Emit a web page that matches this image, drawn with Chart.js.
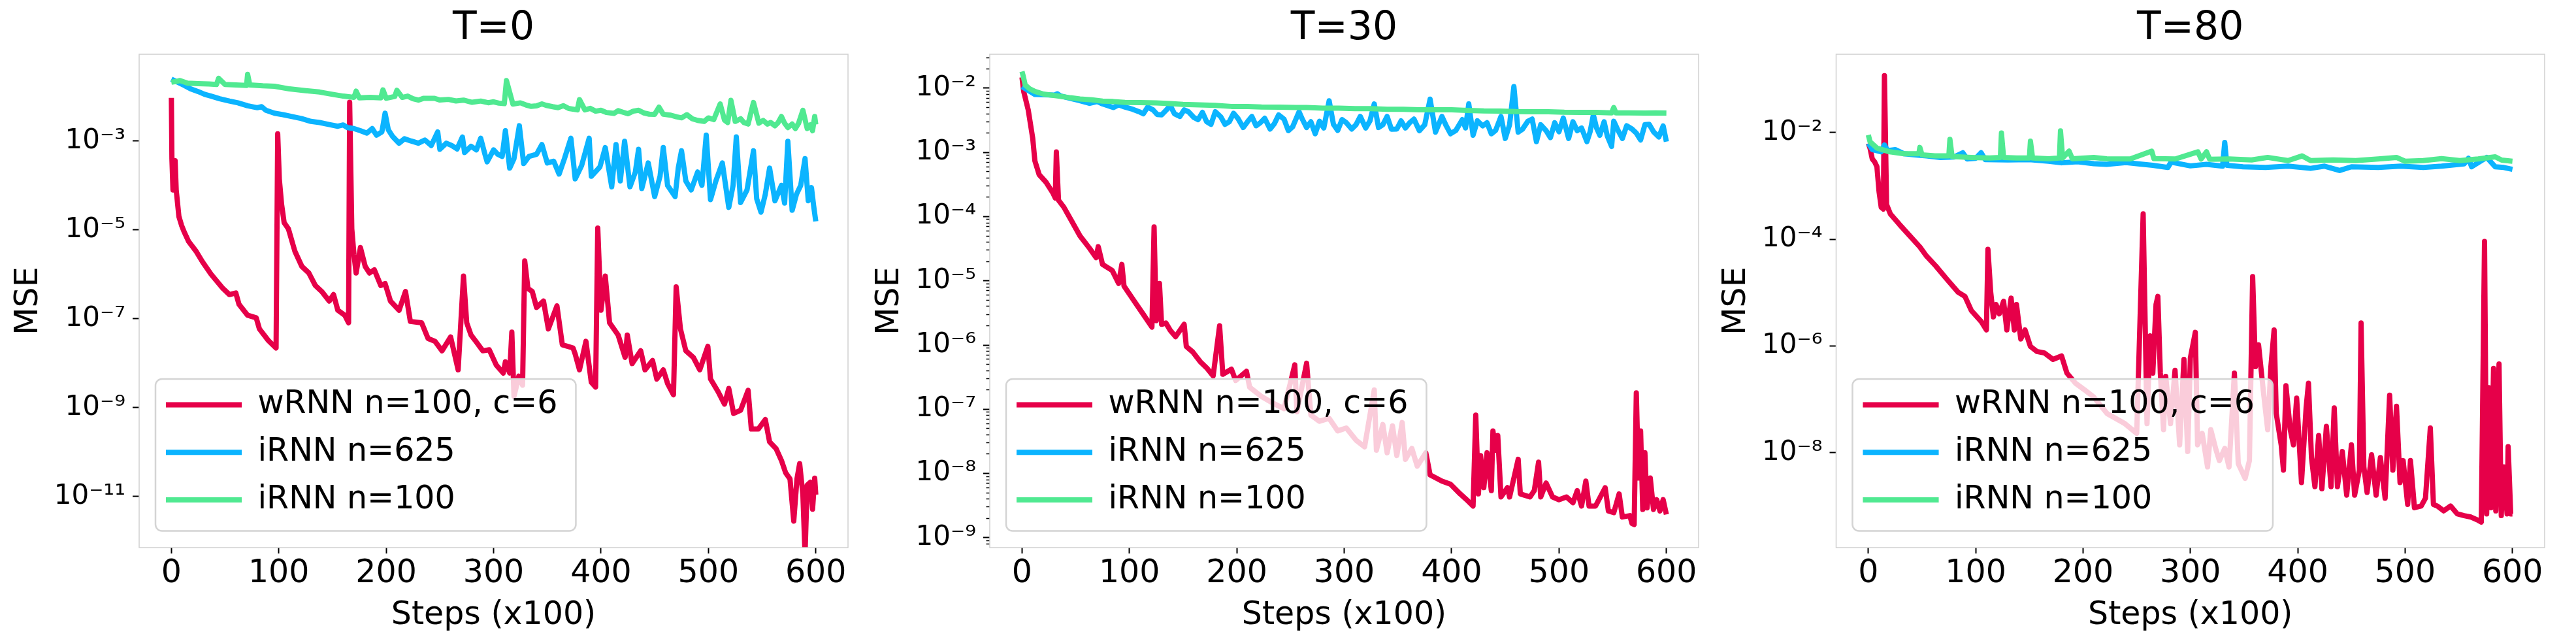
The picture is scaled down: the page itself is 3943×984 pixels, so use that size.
<!DOCTYPE html>
<html>
<head>
<meta charset="utf-8">
<title>MSE vs steps</title>
<script src="https://cdn.jsdelivr.net/npm/chart.js@4/dist/chart.umd.min.js"></script>
<style>
html, body { margin: 0; padding: 0; background: #ffffff; }
body { width: 3943px; height: 984px; position: relative; overflow: hidden; }
canvas { position: absolute; top: 0; }
</style>
</head>
<body>
<canvas id="panelT0" width="1310" height="984" style="left:0px;width:1310px;height:984px"></canvas>
<canvas id="panelT30" width="1300" height="984" style="left:1310px;width:1300px;height:984px"></canvas>
<canvas id="panelT80" width="1333" height="984" style="left:2610px;width:1333px;height:984px"></canvas>
<script>
Chart.defaults.font.family = "'DejaVu Sans', sans-serif";
Chart.defaults.color = '#000';

const seriesNames = ['wRNN n=100, c=6', 'iRNN n=625', 'iRNN n=100'];
const seriesColors = ['#e60049', '#0bb4ff', '#50e991'];
const panelTitles = ['T=0', 'T=30', 'T=80'];
const xTickValues = [0, 100, 200, 300, 400, 500, 600];

// y tick marks / labels per panel
const t0TickValues = [1e-3, 1e-5, 1e-7, 1e-9, 1e-11];
const t0TickLabels = ['10⁻³', '10⁻⁵', '10⁻⁷', '10⁻⁹', '10⁻¹¹'];
const t30TickValues = [1e-2, 1e-3, 1e-4, 1e-5, 1e-6, 1e-7, 1e-8, 1e-9];
const t30TickLabels = ['10⁻²', '10⁻³', '10⁻⁴', '10⁻⁵', '10⁻⁶', '10⁻⁷', '10⁻⁸', '10⁻⁹'];
const t80TickValues = [1e-2, 1e-4, 1e-6, 1e-8];
const t80TickLabels = ['10⁻²', '10⁻⁴', '10⁻⁶', '10⁻⁸'];

// ---- T=0 ----
const t0WrnnSteps = [
  0, 0.5, 1.5, 3.5, 4.5, 7, 9.5, 12, 16, 23,
  29, 37, 48, 54, 60, 63, 71, 79, 82, 90,
  97.5, 99, 100.5, 102.6, 105, 109, 115, 121.5, 128, 134,
  140, 147, 151, 155, 161.5, 165, 166, 168, 170, 172,
  176, 180.5, 184.5, 189, 195, 199, 204, 212, 218, 222.5,
  233, 239, 245.5, 252, 260, 267, 272, 275, 279, 283.5,
  290, 296, 302.5, 309, 311, 315, 317, 319, 323.5, 327,
  329, 332, 336, 340, 346.5, 351, 359, 364, 374, 376,
  380, 386, 391, 395, 397, 400, 404, 408, 416, 422.5,
  424.5, 429, 437, 441, 448, 452, 458, 462, 467.5, 470,
  474, 479, 486, 492, 499.5, 502, 509, 515, 519, 523.5,
  530, 537, 540, 546.5, 553, 557, 563, 568, 572, 576,
  579.5, 582.5, 585, 588, 590, 592, 595, 597, 599, 600];
const t0WrnnMse = [
  9.3e-3, 4.0e-4, 7.9e-5, 3.6e-4, 7.9e-5, 2.0e-5, 1.26e-5, 8.9e-6, 5.5e-6, 3.3e-6,
  1.9e-6, 1.0e-6, 4.8e-7, 3.5e-7, 3.8e-7, 2.1e-7, 1.2e-7, 1.05e-7, 5.9e-8, 3.3e-8,
  2.2e-8, 1.45e-3, 1.4e-4, 3.8e-5, 1.45e-5, 1.05e-5, 3.3e-6, 1.5e-6, 1.07e-6, 5.6e-7,
  4.1e-7, 2.5e-7, 3.5e-7, 1.55e-7, 1.2e-7, 8.1e-8, 7.4e-3, 1.05e-5, 2.8e-6, 1.07e-6,
  4.0e-6, 1.5e-6, 1.07e-6, 1.26e-6, 5.6e-7, 6.2e-7, 2.5e-7, 1.55e-7, 4.1e-7, 8.7e-8,
  8.1e-8, 3.6e-8, 3.1e-8, 1.9e-8, 3.9e-8, 7.1e-9, 9.1e-7, 8.1e-8, 4.3e-8, 3.1e-8,
  1.9e-8, 2.0e-8, 9.1e-9, 6.0e-9, 1.07e-8, 6.0e-9, 5.0e-8, 1.8e-9, 5.1e-9, 3.2e-9,
  2.0e-6, 4.8e-7, 4.1e-7, 1.8e-7, 2.5e-7, 5.9e-8, 1.95e-7, 2.6e-8, 2.2e-8, 1.6e-8,
  7.1e-9, 3.1e-8, 3.7e-9, 2.9e-9, 1.1e-5, 1.55e-7, 9.1e-7, 8.1e-8, 4.3e-8, 1.35e-8,
  4.3e-8, 9.8e-9, 1.9e-8, 7.1e-9, 1.15e-8, 4.4e-9, 7.1e-9, 3.5e-9, 1.95e-9, 5.2e-7,
  5.9e-8, 1.9e-8, 1.35e-8, 7.1e-9, 2.4e-8, 4.4e-9, 2.3e-9, 1.2e-9, 2.7e-9, 7.4e-10,
  8.7e-10, 2.45e-9, 3.3e-10, 3.3e-10, 5.4e-10, 1.7e-10, 1.2e-10, 6.5e-11, 3.4e-11, 2.5e-11,
  2.8e-12, 2.5e-11, 5.5e-11, 1.1e-11, 5e-13, 1.8e-11, 2.1e-11, 5.2e-12, 2.6e-11, 1.1e-11];

const t0Irnn625Steps = [
  0, 6, 12, 18, 25, 31, 37, 45, 54, 62,
  71, 80, 84, 88, 96, 104, 113, 121, 130, 138,
  147, 155, 160, 164, 170, 176, 182, 187, 191, 196,
  199, 202, 206, 212, 217, 223, 230, 236, 242, 248,
  250, 256, 261, 266, 271, 273, 279, 284, 288, 292,
  294, 300, 304, 308, 311, 315, 319, 324, 328, 333,
  340, 345, 350, 356, 361, 366, 372, 376, 382, 389,
  391, 399, 404, 410, 414, 418, 422, 427, 432, 435,
  438, 444, 450, 455, 458, 462, 469, 472, 475, 479,
  484, 490, 494, 498, 502, 507, 513, 519, 523, 526,
  530, 536, 542, 545, 549, 553, 557, 562, 568, 571,
  574, 578, 582, 586, 590, 593, 596, 598, 600];
const t0Irnn625Mse = [
  2.45e-2, 2.09e-2, 1.78e-2, 1.48e-2, 1.29e-2, 1.12e-2, 1.02e-2, 8.9e-3, 7.9e-3, 7.2e-3,
  6.2e-3, 5.6e-3, 5.9e-3, 4.9e-3, 4.2e-3, 3.9e-3, 3.5e-3, 3.2e-3, 2.75e-3, 2.6e-3,
  2.34e-3, 2.14e-3, 2.29e-3, 2.0e-3, 1.9e-3, 1.7e-3, 1.5e-3, 1.9e-3, 1.35e-3, 1.6e-3,
  4.2e-3, 1.78e-3, 1.26e-3, 8.9e-4, 1.12e-3, 1.0e-3, 8.9e-4, 1.05e-3, 7.9e-4, 1.6e-3,
  6.5e-4, 8.9e-4, 7.9e-4, 6.6e-4, 1.23e-3, 5.5e-4, 7.6e-4, 6.3e-4, 1.15e-3, 5.0e-4,
  3.4e-4, 6.3e-4, 5.0e-4, 4.5e-4, 1.7e-3, 2.45e-4, 4.0e-4, 2.2e-3, 3.1e-4, 4.5e-4,
  5.0e-4, 8.3e-4, 3.2e-4, 3.5e-4, 1.8e-4, 4.0e-4, 1.15e-3, 1.4e-4, 2.8e-4, 1.15e-3,
  1.6e-4, 2.6e-4, 7.1e-4, 9.3e-5, 8.3e-4, 1.26e-4, 9.8e-4, 9.3e-5, 2.0e-4, 6.5e-4,
  8.5e-5, 3.2e-4, 5.6e-5, 1.6e-4, 7.1e-4, 1.0e-4, 5.6e-5, 2.5e-4, 6.0e-4, 1.26e-4,
  7.9e-5, 2.0e-4, 1.0e-4, 1.35e-3, 4.8e-5, 1.26e-4, 3.2e-4, 3.2e-5, 1.0e-4, 1.23e-3,
  4.1e-5, 7.9e-5, 6.0e-4, 5.0e-5, 2.5e-5, 6.3e-5, 2.45e-4, 4.5e-5, 1.0e-4, 4.0e-5,
  9.8e-4, 2.75e-5, 6.3e-5, 1.0e-4, 4.0e-4, 4.5e-5, 8.9e-5, 3.5e-5, 1.55e-5];

const t0Irnn100Steps = [
  0, 5, 8, 15, 25, 35, 42, 44, 50, 60,
  70, 71, 73, 85, 96, 110, 125, 138, 150, 160,
  170, 172, 175, 185, 195, 197, 200, 208, 210, 215,
  220, 225, 230, 235, 245, 250, 258, 265, 272, 280,
  288, 295, 300, 305, 310, 312, 318, 325, 330, 335,
  340, 345, 349, 355, 360, 365, 370, 378, 380, 385,
  390, 395, 400, 405, 412, 416, 420, 425, 430, 435,
  440, 445, 450, 454, 458, 465, 470, 475, 480, 485,
  490, 496, 500, 505, 511, 515, 518, 521, 525, 530,
  533, 537, 542, 547, 551, 555, 558, 562, 565, 568,
  571, 574, 578, 581, 584, 588, 592, 595, 597, 599,
  600];
const t0Irnn100Mse = [
  2.09e-2, 2.19e-2, 2.29e-2, 2.0e-2, 1.95e-2, 1.91e-2, 1.86e-2, 2.57e-2, 1.86e-2, 1.82e-2,
  1.78e-2, 3.16e-2, 1.82e-2, 1.74e-2, 1.70e-2, 1.48e-2, 1.35e-2, 1.26e-2, 1.12e-2, 1.02e-2,
  9.55e-3, 1.32e-2, 9.33e-3, 9.55e-3, 9.33e-3, 1.41e-2, 9.12e-3, 1.0e-2, 1.38e-2, 9.55e-3,
  1.02e-2, 8.91e-3, 8.3e-3, 9.12e-3, 9.1e-3, 8.32e-3, 8.6e-3, 7.94e-3, 8.3e-3, 7.41e-3,
  7.9e-3, 7.24e-3, 7.6e-3, 7.08e-3, 6.92e-3, 2.29e-2, 6.76e-3, 7.2e-3, 6.46e-3, 6.0e-3,
  6.17e-3, 6.8e-3, 6.31e-3, 5.9e-3, 5.62e-3, 6.2e-3, 5.37e-3, 5.01e-3, 8.51e-3, 5.01e-3,
  5.4e-3, 4.68e-3, 4.9e-3, 4.37e-3, 4.17e-3, 4.8e-3, 4.47e-3, 4.1e-3, 4.68e-3, 4.9e-3,
  4.27e-3, 4.0e-3, 3.98e-3, 5.75e-3, 3.98e-3, 3.8e-3, 3.5e-3, 3.31e-3, 3.9e-3, 3.16e-3,
  2.9e-3, 2.75e-3, 3.3e-3, 3.02e-3, 6.8e-3, 2.95e-3, 2.6e-3, 8.22e-3, 2.75e-3, 3.16e-3,
  2.6e-3, 2.4e-3, 7.35e-3, 2.51e-3, 2.9e-3, 2.4e-3, 2.6e-3, 2.19e-3, 2.6e-3, 3.55e-3,
  2.5e-3, 2.0e-3, 2.4e-3, 1.9e-3, 2.5e-3, 4.9e-3, 1.91e-3, 2.3e-3, 1.7e-3, 3.55e-3,
  2.34e-3];

// ---- T=30 ----
const t30WrnnSteps = [
  0, 1.6, 5.8, 10, 12, 16, 22.6, 29, 31, 32,
  34, 39, 46, 54, 63, 69, 71, 75, 84, 90,
  93, 95, 105, 113, 121, 123, 125, 128, 130, 134,
  138, 143, 151, 153, 159, 166, 172, 178, 184, 187,
  195, 199, 209, 212, 222.5, 233, 244, 254, 256, 265,
  269, 277, 286, 294, 302, 311, 319, 328, 330, 336,
  340, 345, 349, 354, 357, 363, 368, 376, 380, 391,
  399, 408, 414, 420, 422.5, 425, 427, 430, 433, 437,
  438.5, 441, 443, 446, 452, 454, 462, 464, 473, 477,
  481, 483, 488, 494, 500, 507, 513, 517, 521, 525,
  528, 534, 543, 546, 551, 556, 559, 566, 568, 570,
  572, 574, 576, 578, 580, 582, 585, 588, 591, 594,
  597, 600];
const t30WrnnMse = [
  1.48e-2, 8.9e-3, 4.6e-3, 1.66e-3, 7.4e-4, 4.5e-4, 3.4e-4, 2.3e-4, 1.95e-4, 1.02e-3,
  1.8e-4, 1.4e-4, 8.7e-5, 5.0e-5, 3.2e-5, 2.3e-5, 3.4e-5, 1.8e-5, 1.45e-5, 9.1e-6,
  1.8e-5, 8.3e-6, 4.7e-6, 3.0e-6, 1.9e-6, 6.9e-5, 2.4e-6, 9.1e-6, 2.1e-6, 2.2e-6,
  1.7e-6, 1.35e-6, 2.1e-6, 9.5e-7, 7.8e-7, 5.5e-7, 4.4e-7, 3.3e-7, 2.0e-6, 3.5e-7,
  4.2e-7, 2.8e-7, 3.9e-7, 2.2e-7, 1.6e-7, 1.26e-7, 1.02e-7, 4.9e-7, 9.1e-8, 5.2e-7,
  8.1e-8, 6.5e-8, 7.2e-8, 4.6e-8, 5.1e-8, 3.3e-8, 2.6e-8, 2.0e-7, 2.3e-8, 5.8e-8,
  2.1e-8, 5.5e-8, 1.9e-8, 6.2e-8, 1.66e-8, 2.45e-8, 1.3e-8, 2.1e-8, 9.5e-9, 7.6e-9,
  6.8e-9, 4.8e-9, 3.9e-9, 3.1e-9, 8.1e-8, 4.8e-9, 1.9e-8, 6.0e-9, 2.1e-8, 5.4e-9,
  4.6e-8, 2.3e-8, 3.9e-8, 4.3e-9, 6.0e-9, 4.3e-9, 1.66e-8, 4.8e-9, 4.3e-9, 5.4e-9,
  1.5e-8, 4.3e-9, 7.1e-9, 4.3e-9, 3.9e-9, 4.3e-9, 3.5e-9, 5.4e-9, 3.1e-9, 7.6e-9,
  3.1e-9, 3.1e-9, 6.0e-9, 2.6e-9, 2.45e-9, 4.8e-9, 2.1e-9, 2.2e-9, 1.66e-9, 1.6e-9,
  1.8e-7, 8.5e-9, 4.6e-8, 2.75e-9, 2.1e-8, 2.9e-9, 8.5e-9, 2.75e-9, 3.9e-9, 2.6e-9,
  3.9e-9, 2.3e-9];

const t30Irnn625Steps = [
  0, 12, 30, 33, 36, 54, 63, 70, 75, 85,
  90, 96, 103, 109, 113, 117, 122, 126, 130, 134,
  138, 142, 147, 151, 155, 160, 164, 168, 172, 176,
  180, 185, 189, 193, 197, 201, 206, 210, 214, 218,
  222, 226, 231, 235, 239, 244, 248, 252, 258, 261,
  265, 269, 273, 277, 281, 286, 290, 294, 298, 302,
  307, 311, 315, 320, 324, 328, 332, 336, 340, 344,
  349, 353, 357, 361, 365, 370, 375, 380, 385, 391,
  395, 399, 404, 410, 413, 416, 420, 424, 429, 433,
  437, 441, 446, 450, 454, 458, 462, 466, 471, 475,
  479, 483, 488, 492, 496, 500, 504, 509, 513, 517,
  521, 526, 529, 532, 535, 538, 542, 545, 549, 551,
  555, 559, 563, 568, 572, 576, 580, 584, 588, 593,
  597, 600];
const t30Irnn625Mse = [
  1.06e-2, 8.0e-3, 7.8e-3, 8.2e-3, 7.55e-3, 6.37e-3, 5.8e-3, 6.2e-3, 5.69e-3, 5.0e-3,
  5.5e-3, 5.08e-3, 4.7e-3, 4.3e-3, 4.0e-3, 5.08e-3, 4.6e-3, 3.9e-3, 3.84e-3, 4.5e-3,
  5.38e-3, 4.0e-3, 3.63e-3, 4.6e-3, 4.3e-3, 3.5e-3, 3.24e-3, 4.2e-3, 3.0e-3, 2.74e-3,
  4.3e-3, 3.6e-3, 2.74e-3, 3.0e-3, 4.06e-3, 3.4e-3, 2.44e-3, 3.0e-3, 3.63e-3, 2.6e-3,
  2.9e-3, 3.4e-3, 2.31e-3, 2.8e-3, 3.84e-3, 3.3e-3, 2.18e-3, 2.5e-3, 4.3e-3, 3.3e-3,
  2.44e-3, 3.0e-3, 1.95e-3, 3.06e-3, 2.4e-3, 6.37e-3, 2.74e-3, 2.2e-3, 3.24e-3, 2.9e-3,
  2.31e-3, 2.7e-3, 3.63e-3, 2.4e-3, 3.1e-3, 5.69e-3, 2.44e-3, 2.7e-3, 3.63e-3, 2.3e-3,
  2.31e-3, 3.1e-3, 2.4e-3, 2.9e-3, 3.3e-3, 2.18e-3, 2.7e-3, 6.75e-3, 2.07e-3, 3.63e-3,
  2.6e-3, 1.95e-3, 2.2e-3, 3.24e-3, 2.4e-3, 5.69e-3, 1.85e-3, 3.1e-3, 2.59e-3, 2.9e-3,
  1.95e-3, 2.2e-3, 3.63e-3, 1.65e-3, 2.7e-3, 1.06e-2, 2.07e-3, 2.3e-3, 3.06e-3, 3.3e-3,
  1.47e-3, 2.7e-3, 2.18e-3, 1.7e-3, 2.9e-3, 2.1e-3, 3.43e-3, 1.65e-3, 3.0e-3, 2.18e-3,
  2.4e-3, 1.47e-3, 2.1e-3, 3.84e-3, 2.4e-3, 1.85e-3, 3.0e-3, 1.8e-3, 1.24e-3, 3.06e-3,
  2.2e-3, 1.65e-3, 2.6e-3, 2.31e-3, 2.0e-3, 1.56e-3, 2.7e-3, 2.74e-3, 2.1e-3, 1.74e-3,
  2.59e-3, 1.47e-3];

const t30Irnn100Steps = [
  0, 1, 3, 7, 12, 20, 33, 45, 54, 65,
  75, 85, 96, 110, 125, 138, 150, 165, 180, 195,
  210, 223, 240, 255, 265, 280, 295, 310, 325, 340,
  355, 370, 385, 400, 415, 430, 445, 460, 475, 490,
  505, 520, 535, 549, 551, 553, 565, 580, 590, 600];
const t30Irnn100Mse = [
  1.82e-2, 1.58e-2, 1.12e-2, 9.8e-3, 8.9e-3, 8.1e-3, 7.6e-3, 7.1e-3, 6.8e-3, 6.6e-3,
  6.3e-3, 6.2e-3, 6.0e-3, 5.96e-3, 5.9e-3, 5.75e-3, 5.6e-3, 5.5e-3, 5.4e-3, 5.2e-3,
  5.19e-3, 5.1e-3, 5.07e-3, 5.0e-3, 5.0e-3, 4.9e-3, 4.9e-3, 4.8e-3, 4.8e-3, 4.7e-3,
  4.7e-3, 4.62e-3, 4.6e-3, 4.6e-3, 4.5e-3, 4.42e-3, 4.4e-3, 4.32e-3, 4.3e-3, 4.3e-3,
  4.22e-3, 4.2e-3, 4.2e-3, 4.12e-3, 5.0e-3, 4.12e-3, 4.12e-3, 4.1e-3, 4.12e-3, 4.1e-3];

// ---- T=80 ----
const t80WrnnSteps = [
  0, 1.6, 3.7, 6, 8, 10, 12, 14, 15, 17,
  20.5, 29, 37, 48, 54, 62.6, 73, 83.6, 90, 96,
  105, 110, 111.4, 114, 116.5, 119, 122, 126, 129, 133,
  136, 138, 142, 146, 151, 157, 164, 172, 180, 185,
  193, 201.5, 210, 222.5, 239, 250, 256, 259.6, 262.5, 265,
  268, 269.7, 272, 275, 277, 281.5, 285.7, 290, 294, 297.5,
  300, 304.6, 306.7, 311, 316, 319, 323.5, 327, 332, 336,
  341, 344.6, 351, 355, 358, 360.6, 363.5, 368, 372, 375,
  378, 380, 384.6, 386.7, 389, 393, 396, 399, 403.5, 407.8,
  410, 412.8, 416, 419.5, 422.5, 426.7, 431, 434, 437, 441.5,
  445.6, 450, 453, 457.4, 459, 461.6, 464.6, 468.8, 473, 477,
  481.4, 485.6, 488.6, 492, 495.3, 498.2, 502.4, 505, 508.7, 515,
  519, 523.5, 526.4, 530, 536, 542.4, 548.7, 555, 561.4, 568,
  571, 574, 576, 578, 580, 582.4, 584.5, 587.5, 589.6, 592,
  595, 596, 598.4, 600];
const t80WrnnMse = [
  6.3e-3, 5.1e-3, 3.2e-3, 2.8e-3, 2.3e-3, 7.8e-4, 4.0e-4, 3.7e-4, 0.117, 4.5e-4,
  3.0e-4, 1.9e-4, 1.26e-4, 7.2e-5, 4.9e-5, 3.2e-5, 1.8e-5, 1.02e-5, 8.5e-6, 4.6e-6,
  2.9e-6, 2.0e-6, 6.5e-5, 1.02e-5, 3.5e-6, 6.0e-6, 4.0e-6, 6.9e-6, 2.0e-6, 7.9e-6,
  2.0e-6, 6.0e-6, 1.35e-6, 2.0e-6, 9.8e-7, 7.9e-7, 7.4e-7, 5.6e-7, 6.5e-7, 3.1e-7,
  2.0e-7, 1.5e-7, 1.1e-7, 5.4e-8, 3.5e-8, 2.3e-8, 3.0e-4, 3.5e-8, 1.55e-6, 3.1e-7,
  6.0e-6, 8.5e-6, 3.1e-7, 2.7e-8, 2.7e-7, 3.5e-8, 3.5e-7, 1.4e-8, 5.6e-7, 1.05e-8,
  6.0e-7, 1.8e-6, 1.4e-8, 2.3e-8, 5.4e-9, 2.7e-8, 1.2e-8, 7.1e-9, 1.2e-8, 5.4e-9,
  3.1e-7, 6.2e-9, 3.3e-9, 7.1e-9, 2.0e-5, 4.1e-7, 1.05e-6, 1.4e-7, 2.7e-8, 4.1e-7,
  2.0e-6, 5.4e-8, 1.4e-8, 4.7e-9, 1.8e-7, 2.7e-8, 1.4e-8, 1.05e-7, 2.75e-9, 6.9e-8,
  2.0e-7, 8.1e-9, 2.3e-9, 2.1e-8, 2.1e-9, 3.1e-8, 2.3e-9, 6.9e-8, 2.3e-9, 1.05e-8,
  1.6e-9, 1.4e-8, 1.6e-9, 4.7e-9, 2.7e-6, 5.4e-9, 1.8e-9, 9.1e-9, 1.6e-9, 8.1e-9,
  1.4e-9, 1.2e-7, 4.7e-9, 7.4e-8, 2.75e-9, 7.1e-9, 1.07e-9, 7.1e-9, 9.3e-10, 1.0e-9,
  1.4e-9, 2.9e-8, 1.07e-9, 1.0e-9, 8.1e-10, 1.0e-9, 7.1e-10, 6.6e-10, 6.2e-10, 5.4e-10,
  5.0e-10, 9.1e-5, 7.1e-10, 1.66e-7, 9.3e-10, 3.8e-7, 8.1e-10, 4.6e-7, 6.6e-10, 5.4e-9,
  7.1e-10, 1.3e-8, 7.1e-10, 7.1e-10];

const t80Irnn625Steps = [
  0, 3.7, 12, 15, 18, 25, 33, 45, 54, 67,
  80, 88, 92, 100, 105, 109, 130, 150, 168, 180,
  195, 210, 222, 240, 250, 265, 279, 282, 300, 315,
  330, 332, 334, 349, 370, 391, 412, 425, 439, 450,
  475, 496, 517, 534, 555, 559, 562, 576, 584, 592,
  600];
const t80Irnn625Mse = [
  6.3e-3, 4.81e-3, 4.37e-3, 5.88e-3, 4.61e-3, 4.81e-3, 4.03e-3, 3.8e-3, 3.66e-3, 3.43e-3,
  3.5e-3, 4.2e-3, 3.21e-3, 3.3e-3, 4.2e-3, 3.12e-3, 3.08e-3, 3.12e-3, 2.91e-3, 2.72e-3,
  2.85e-3, 2.62e-3, 2.55e-3, 2.75e-3, 2.62e-3, 2.44e-3, 2.22e-3, 2.8e-3, 2.38e-3, 2.55e-3,
  2.35e-3, 6.55e-3, 2.44e-3, 2.29e-3, 2.22e-3, 2.35e-3, 2.14e-3, 2.35e-3, 1.95e-3, 2.29e-3,
  2.22e-3, 2.35e-3, 2.22e-3, 2.35e-3, 2.6e-3, 3.3e-3, 2.29e-3, 3.43e-3, 2.29e-3, 2.22e-3,
  2.05e-3];

const t80Irnn100Steps = [
  0, 1.6, 8, 20, 33, 47, 48, 50, 62, 75,
  76, 78, 96, 113, 123, 124, 126, 138, 150, 151,
  153, 168, 178, 179, 181, 187, 190, 210, 222, 244,
  264, 266, 286, 307, 310, 315, 318, 336, 357, 372,
  391, 404, 412, 433, 454, 475, 492, 500, 517, 534,
  551, 568, 584, 590, 600];
const t80Irnn100Mse = [
  9.06e-3, 6.73e-3, 5.14e-3, 4.37e-3, 4.03e-3, 4.03e-3, 5.28e-3, 3.82e-3, 3.66e-3, 3.66e-3,
  7.5e-3, 3.57e-3, 3.43e-3, 3.34e-3, 3.43e-3, 9.82e-3, 3.43e-3, 3.34e-3, 3.34e-3, 6.92e-3,
  3.34e-3, 3.24e-3, 3.34e-3, 1.08e-2, 3.34e-3, 4.49e-3, 3.24e-3, 3.43e-3, 3.24e-3, 3.21e-3,
  4.49e-3, 3.26e-3, 3.21e-3, 4.37e-3, 3.21e-3, 4.37e-3, 3.16e-3, 3.21e-3, 3.08e-3, 3.43e-3,
  2.99e-3, 3.66e-3, 2.99e-3, 3.08e-3, 2.99e-3, 3.21e-3, 3.43e-3, 2.91e-3, 2.99e-3, 3.26e-3,
  2.99e-3, 3.21e-3, 3.52e-3, 3.05e-3, 2.91e-3];

function toPoints(steps, mse) {
  return steps.map((s, i) => ({x: s, y: mse[i]}));
}

// axis box + matplotlib-like legend frame drawn over the lines
function framePlugin() {
  return {
    id: 'frame',
    afterLayout(chart) {
      const lg = chart.legend, a = chart.chartArea;
      lg.left = a.left + 17.25;
      lg.right = a.right;
      lg.top = a.top + 488.25;
      lg.bottom = a.bottom;
    },
    afterDatasetsDraw(chart) {
      const ctx = chart.ctx, a = chart.chartArea, lg = chart.legend;
      ctx.save();
      ctx.strokeStyle = '#d0d0d0';
      ctx.lineWidth = 1.5;
      ctx.strokeRect(a.left, a.top, a.right - a.left, a.bottom - a.top);
      const hb = lg.legendHitBoxes;
      const last = hb[hb.length - 1];
      const x0 = hb[0].left - 16;
      const x1 = Math.max.apply(null, hb.map(h => h.left + h.width)) + 28;
      const y0 = hb[0].top - 15;
      const y1 = last.top + last.height + 23;
      ctx.beginPath();
      ctx.roundRect(x0, y0, x1 - x0, y1 - y0, 10);
      ctx.fillStyle = 'rgba(255,255,255,0.8)';
      ctx.fill();
      ctx.lineWidth = 2.5;
      ctx.strokeStyle = '#d4d4d4';
      ctx.stroke();
      ctx.restore();
      lg.draw();
    }
  };
}

function drawPanel(canvasId, p) {
  const majors = p.tickValues;
  const minors = p.minorTicks || [];
  const series = [[p.wrnnSteps, p.wrnnMse], [p.i625Steps, p.i625Mse], [p.i100Steps, p.i100Mse]];
  return new Chart(document.getElementById(canvasId), {
    type: 'line',
    data: {
      datasets: series.map((s, i) => ({
        label: seriesNames[i],
        data: toPoints(s[0], s[1]),
        borderColor: seriesColors[i],
        backgroundColor: seriesColors[i],
        borderWidth: 8,
        borderJoinStyle: 'round',
        pointRadius: 0,
        pointHoverRadius: 0,
        tension: 0,
        fill: false,
        clip: 0,
        order: 3 - i
      }))
    },
    options: {
      responsive: false,
      animation: false,
      events: [],
      layout: {autoPadding: false, padding: {left: p.padLeft, right: p.padRight, top: 0, bottom: 0}},
      scales: {
        x: {
          type: 'linear', min: -30, max: 630,
          afterBuildTicks: s => { s.ticks = xTickValues.map(v => ({value: v})); },
          afterFit: s => { s.height = 146; },
          ticks: {font: {size: 49}, padding: 2, autoSkip: false, maxRotation: 0, callback: v => String(v)},
          grid: {display: true, drawOnChartArea: false, drawTicks: true, tickLength: 9, tickWidth: 2, tickColor: '#000'},
          border: {display: false},
          title: {display: true, text: 'Steps (x100)', font: {size: 49}, padding: {top: 0, bottom: 12}}
        },
        y: {
          type: 'logarithmic', min: p.yMin, max: p.yMax,
          afterBuildTicks: s => {
            s.ticks = majors.concat(minors).sort((a, b) => a - b)
              .map(v => ({value: v, major: majors.indexOf(v) !== -1}));
          },
          afterFit: s => { s.width = p.areaLeft - p.padLeft; },
          ticks: {
            font: {size: 42}, padding: 11, autoSkip: false,
            callback: v => { const k = majors.indexOf(v); return k === -1 ? '' : p.tickLabels[k]; }
          },
          grid: {
            display: true, drawOnChartArea: false, drawTicks: true, tickLength: 10, tickColor: '#000',
            tickWidth: c => (c.tick && c.tick.major) ? 2 : 1.5,
            tickBorderDash: c => (c.tick && c.tick.major) ? [] : [0, 4.5, 5.5, 100]
          },
          border: {display: false},
          title: {display: true, text: 'MSE', font: {size: 49}, padding: {top: 0, bottom: 0}}
        }
      },
      plugins: {
        title: {
          display: true, text: p.title, fullSize: false,
          font: {size: 60, weight: 'normal'}, padding: {top: 8, bottom: 3}, color: '#000'
        },
        legend: {
          position: 'chartArea', align: 'start',
          labels: {
            font: {size: 49}, color: '#000', boxWidth: 116, boxHeight: 8, padding: 23.75,
            sort: (a, b) => a.datasetIndex - b.datasetIndex,
            generateLabels: chart => Chart.defaults.plugins.legend.labels.generateLabels(chart)
              .map(it => Object.assign(it, {lineWidth: 0, fillStyle: it.strokeStyle}))
          }
        },
        tooltip: {enabled: false}
      }
    },
    plugins: [framePlugin()]
  });
}

// minor log ticks for the T=30 panel
const t30Min = 7.26e-10, t30Max = 0.0338;
const t30MinorTicks = [];
for (let e = -10; e <= -2; e++) {
  for (let k = 2; k <= 9; k++) {
    const v = k * Math.pow(10, e);
    if (v > t30Min && v < t30Max) t30MinorTicks.push(v);
  }
}

drawPanel('panelT0', {
  title: panelTitles[0], padLeft: 14.6, padRight: 12, areaLeft: 213,
  yMin: 7.1e-13, yMax: 0.0893, tickValues: t0TickValues, tickLabels: t0TickLabels,
  wrnnSteps: t0WrnnSteps, wrnnMse: t0WrnnMse,
  i625Steps: t0Irnn625Steps, i625Mse: t0Irnn625Mse,
  i100Steps: t0Irnn100Steps, i100Mse: t0Irnn100Mse
});
drawPanel('panelT30', {
  title: panelTitles[1], padLeft: 23.1, padRight: 10, areaLeft: 205,
  yMin: t30Min, yMax: t30Max, tickValues: t30TickValues, tickLabels: t30TickLabels,
  minorTicks: t30MinorTicks,
  wrnnSteps: t30WrnnSteps, wrnnMse: t30WrnnMse,
  i625Steps: t30Irnn625Steps, i625Mse: t30Irnn625Mse,
  i100Steps: t30Irnn100Steps, i100Mse: t30Irnn100Mse
});
drawPanel('panelT80', {
  title: panelTitles[2], padLeft: 19.3, padRight: 48, areaLeft: 200.5,
  yMin: 1.66e-10, yMax: 0.295, tickValues: t80TickValues, tickLabels: t80TickLabels,
  wrnnSteps: t80WrnnSteps, wrnnMse: t80WrnnMse,
  i625Steps: t80Irnn625Steps, i625Mse: t80Irnn625Mse,
  i100Steps: t80Irnn100Steps, i100Mse: t80Irnn100Mse
});
</script>
</body>
</html>
